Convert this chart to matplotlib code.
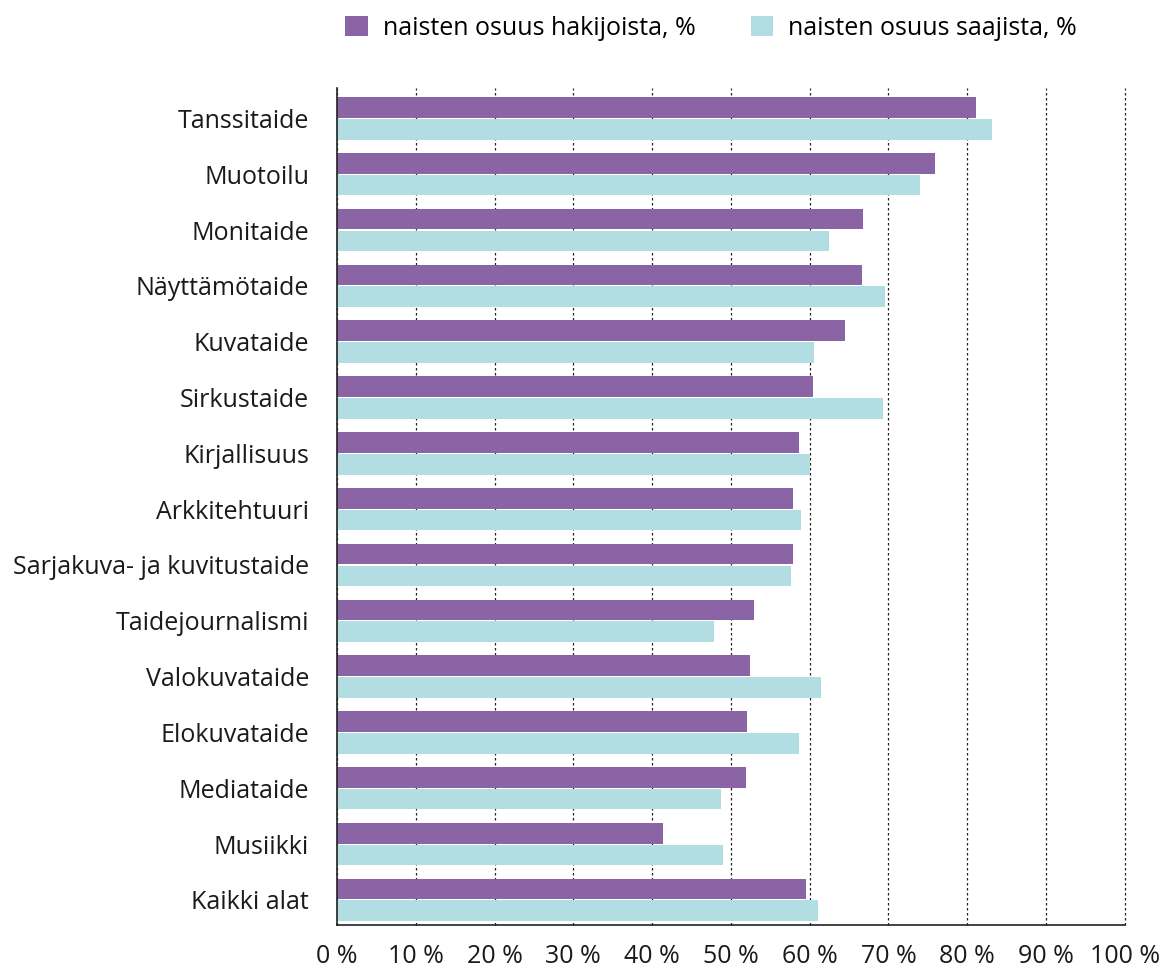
import numpy as np
import matplotlib.pyplot as plt
from matplotlib.patches import Patch

plt.rcParams['font.family'] = ['Open Sans', 'DejaVu Sans']

categories = ['Tanssitaide', 'Muotoilu', 'Monitaide', 'Näyttämötaide', 'Kuvataide',
              'Sirkustaide', 'Kirjallisuus', 'Arkkitehtuuri', 'Sarjakuva- ja kuvitustaide',
              'Taidejournalismi', 'Valokuvataide', 'Elokuvataide', 'Mediataide',
              'Musiikki', 'Kaikki alat']
hakijat = [81.1, 75.9, 66.8, 66.6, 64.5, 60.4, 58.6, 57.9, 57.9, 52.9, 52.4, 52.0, 51.9, 41.4, 59.5]
saajat = [83.2, 74.0, 62.5, 69.6, 60.5, 69.3, 60.1, 58.9, 57.6, 47.8, 61.4, 58.6, 48.8, 49.0, 61.1]
xticks = list(range(0, 101, 10))
xlabels = [f'{v} %' for v in xticks]

purple = '#8B64A6'
cyan = '#B2DEE3'
fs = 18

fig = plt.figure(figsize=(11.62, 9.69), dpi=100)
ax = fig.add_axes([0.290, 0.0454, 0.678, 0.8638])

y = np.arange(len(categories))
h = 0.37
ax.barh(y - 0.195, hakijat, height=h, color=purple, zorder=2)
ax.barh(y + 0.195, saajat, height=h, color=cyan, zorder=2)

ax.set_xlim(0, 100)
ax.set_ylim(14.45, -0.545)
ax.set_xticks(xticks)
ax.set_xticklabels(xlabels, fontsize=fs, color='#1a1a1a')
ax.set_yticks(y)
ax.set_yticklabels(categories, fontsize=fs, color='#1a1a1a')
ax.tick_params(axis='x', length=0, pad=14)
ax.tick_params(axis='y', length=0, pad=20)

ax.set_axisbelow(True)
ax.grid(axis='x', linestyle=(0, (2, 2)), color='#222222', linewidth=0.9)
for gl in ax.get_xgridlines():
    gl.set_clip_on(False)
for s in ['top', 'right']:
    ax.spines[s].set_visible(False)
ax.spines['left'].set_color('#222222')
ax.spines['bottom'].set_color('#222222')
ax.spines['left'].set_linewidth(1.2)
ax.spines['bottom'].set_linewidth(1.2)

handles = [Patch(facecolor=purple, label='naisten osuus hakijoista, %'),
           Patch(facecolor=cyan, label='naisten osuus saajista, %')]
fig.legend(handles=handles, loc='center', bbox_to_anchor=(0.612, 0.971), ncol=2,
           frameon=False, fontsize=fs, handlelength=0.9, handleheight=0.9,
           handletextpad=0.6, columnspacing=2.2)

fig.savefig('out.png', dpi=100)
